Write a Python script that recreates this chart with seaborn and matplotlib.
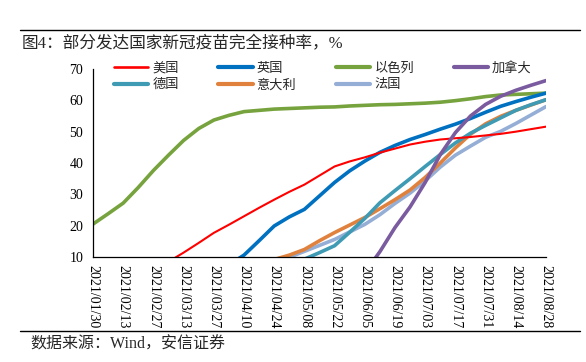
import numpy as np
import pandas as pd
import matplotlib
matplotlib.use("Agg")
import matplotlib.pyplot as plt
import matplotlib.dates as mdates
from matplotlib.lines import Line2D
import seaborn as sns

NA = np.nan

# weekly samples, 2021/01/30 .. 2021/08/28
dates = pd.date_range("2021-01-30", "2021-08-28", freq="7D")

israel = [20.5, 23.8, 27.2, 32.2, 37.6, 42.5, 47.2, 51.0, 53.7, 55.2, 56.4, 56.8, 57.2, 57.4, 57.6, 57.8,
          57.9, 58.2, 58.4, 58.6, 58.7, 58.9, 59.1, 59.4, 59.9, 60.5, 61.2, 61.7, 61.9, 62.1, 62.3]
usa = [NA, NA, NA, NA, NA, 8.5, 11.4, 14.5, 17.7, 20.3, 23.0, 25.7, 28.3, 30.8, 33.1, 36.0,
       38.9, 40.5, 41.8, 43.3, 44.6, 45.9, 46.8, 47.5, 47.9, 48.3, 48.8, 49.3, 50.0, 50.8, 51.6]
uk = [NA, NA, NA, NA, NA, NA, NA, NA, NA, 7.5, 10.6, 15.2, 19.9, 22.8, 25.2, 29.5,
      33.8, 37.5, 40.6, 43.4, 45.6, 47.5, 49.1, 50.8, 52.4, 54.2, 56.2, 58.1, 59.6, 61.0, 62.3]
germany = [NA, NA, NA, NA, NA, NA, NA, NA, NA, NA, NA, NA, NA, NA, 9.3, 11.4,
           13.6, 17.9, 22.3, 27.3, 31.2, 35.0, 38.9, 42.7, 46.4, 49.5, 52.0, 54.4, 56.8, 58.6, 60.2]
italy = [NA, NA, NA, NA, NA, NA, NA, NA, NA, NA, NA, NA, 9.2, 10.6, 12.4, 15.2,
         17.8, 20.2, 22.6, 25.4, 28.3, 31.4, 35.4, 40.0, 44.8, 49.2, 52.5, 54.9, 56.8, 58.5, 60.2]
france = [NA, NA, NA, NA, NA, NA, NA, NA, NA, NA, NA, NA, 8.0, 9.9, 11.8, 13.7,
          15.6, 18.0, 20.4, 23.5, 27.1, 30.4, 34.3, 38.7, 42.5, 45.4, 48.2, 50.1, 52.6, 55.3, 58.0]
canada = [NA, NA, NA, NA, NA, NA, NA, NA, NA, NA, NA, NA, NA, NA, NA, NA,
          NA, NA, 5.0, 11.7, 19.4, 26.0, 33.8, 42.7, 49.7, 55.0, 58.7, 61.3, 63.2, 64.8, 66.3]

series = {"美国": usa, "英国": uk, "以色列": israel, "加拿大": canada,
          "德国": germany, "意大利": italy, "法国": france}
colors = {"美国": "#FF0000", "英国": "#0070C0", "以色列": "#77A33E", "加拿大": "#7A5B9F",
          "德国": "#3F9AB4", "意大利": "#E0823D", "法国": "#95AED6"}
widths = {"美国": 1.5, "英国": 2.6, "以色列": 2.6, "加拿大": 2.6,
          "德国": 2.6, "意大利": 2.6, "法国": 2.6}

sns.set_style("white")
plt.rcParams["font.family"] = ["Liberation Serif", "Noto Sans CJK SC"]

fig = plt.figure(figsize=(5.86, 3.62), dpi=100)
ax = fig.add_axes([93 / 586, 1 - 257 / 362, (546 - 93) / 586, (257 - 69) / 362])

df = pd.DataFrame(series, index=dates)
for name in ["以色列", "法国", "意大利", "德国", "英国", "美国", "加拿大"]:
    s = df[name].dropna()
    sns.lineplot(x=s.index, y=s.values, ax=ax, color=colors[name],
                 linewidth=widths[name], legend=False)

ax.set_ylim(10, 70)
ax.set_yticks(range(10, 71, 10))
ax.set_xlim(dates[0], dates[-1])
ax.set_xticks(pd.date_range("2021-01-30", "2021-08-28", freq="14D"))
ax.xaxis.set_major_formatter(mdates.DateFormatter("%Y/%m/%d"))
ax.tick_params(axis="x", rotation=270, labelsize=10, length=4, width=0.8, direction="out", pad=2)
ax.tick_params(axis="y", labelsize=10, length=4, width=0.8, direction="out", pad=3)
for lab in ax.get_xticklabels():
    lab.set_va("top")
ax.set_xlabel("")
ax.set_ylabel("")
sns.despine(ax=ax)
for sp in ["left", "bottom"]:
    ax.spines[sp].set_color("black")
    ax.spines[sp].set_linewidth(0.9)
ax.tick_params(colors="black")

order = ["美国", "德国", "英国", "意大利", "以色列", "法国", "加拿大"]
handles = [Line2D([], [], color=colors[n], linewidth=widths[n] + 0.4) for n in order]
fig.legend(handles, order, ncol=4, loc="upper left", bbox_to_anchor=(114 / 586, 1 - 62 / 362),
           frameon=False, fontsize=9.5, handlelength=2.6, handletextpad=0.3,
           columnspacing=3.0, labelspacing=0.3, borderaxespad=0, borderpad=0)

fig.add_artist(Line2D([20 / 586, 580 / 586], [1 - 30 / 362] * 2, color="black", linewidth=1.0))
fig.add_artist(Line2D([20 / 586, 580 / 586], [1 - 331 / 362] * 2, color="black", linewidth=1.0))
fig.text(22 / 586, 1 - 44 / 362, "图4：部分发达国家新冠疫苗完全接种率，%", fontsize=12,
         va="center", ha="left")
fig.text(30 / 586, 1 - 345 / 362, "数据来源：Wind，安信证券", fontsize=11.5,
         va="center", ha="left")

fig.savefig("out.png", dpi=100)
